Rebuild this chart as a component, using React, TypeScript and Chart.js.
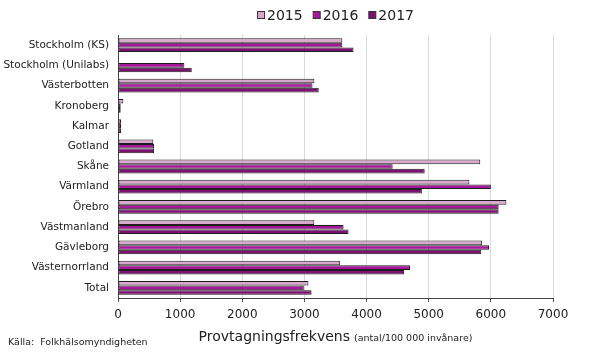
import React, { useEffect, useRef } from "react";
import { Chart, registerables } from "chart.js";

Chart.register(...registerables);

const categories = [
  "Stockholm (KS)",
  "Stockholm (Unilabs)",
  "Västerbotten",
  "Kronoberg",
  "Kalmar",
  "Gotland",
  "Skåne",
  "Värmland",
  "Örebro",
  "Västmanland",
  "Gävleborg",
  "Västernorrland",
  "Total",
];

const values2015 = [3610, null, 3160, 86, 48, 569, 5830, 5655, 6250, 3160, 5860, 3570, 3065];
const values2016 = [3610, 1068, 3130, 43, 48, 580, 4420, 6000, 6125, 3630, 5970, 4700, 2990];
const values2017 = [3790, 1187, 3230, 43, 50, 580, 4935, 4890, 6125, 3710, 5845, 4605, 3115];

const seriesLabels = ["2015", "2016", "2017"];
const seriesColors = ["#d9a9cd", "#a6189a", "#7d1172"];

const xTicks = [0, 1000, 2000, 3000, 4000, 5000, 6000, 7000];
const xTitleMain = "Provtagningsfrekvens";
const xTitleSub = "(antal/100 000 invånare)";
const sourceText = "Källa:  Folkhälsomyndigheten";

const FONT = "'DejaVu Sans', Verdana, sans-serif";

const decorPlugin = {
  id: "decor",
  afterDraw(chart: any) {
    const ctx = chart.ctx;
    const area = chart.chartArea;
    ctx.save();
    // legend
    ctx.font = `14px ${FONT}`;
    ctx.textBaseline = "middle";
    const boxW = 7;
    const gapBoxText = 3;
    const gapItems = 10;
    const widths = seriesLabels.map((l) => boxW + gapBoxText + ctx.measureText(l).width);
    const total = widths.reduce((a, b) => a + b, 0) + gapItems * (widths.length - 1);
    let x = (area.left + area.right) / 2 - total / 2;
    const y = 15;
    seriesLabels.forEach((l, i) => {
      ctx.fillStyle = seriesColors[i];
      ctx.fillRect(x + 0.5, y - 3.5, boxW, boxW);
      ctx.strokeStyle = "#333";
      ctx.lineWidth = 1;
      ctx.strokeRect(x + 0.5, y - 3.5, boxW, boxW);
      ctx.fillStyle = "#222";
      ctx.textAlign = "left";
      ctx.fillText(l, x + boxW + gapBoxText, y + 1);
      x += widths[i] + gapItems;
    });
    // axis title
    ctx.font = `14px ${FONT}`;
    const w1 = ctx.measureText(xTitleMain).width;
    ctx.font = `9.5px ${FONT}`;
    const w2 = ctx.measureText(xTitleSub).width;
    const tw = w1 + 4 + w2;
    const tx = (area.left + area.right) / 2 - tw / 2;
    const ty = 337;
    ctx.textBaseline = "alphabetic";
    ctx.fillStyle = "#222";
    ctx.font = `14px ${FONT}`;
    ctx.fillText(xTitleMain, tx, ty + 4);
    ctx.font = `9.5px ${FONT}`;
    ctx.fillText(xTitleSub, tx + w1 + 4, ty + 4);
    // source
    ctx.font = `9.5px ${FONT}`;
    ctx.fillText(sourceText, 8, 345);
    ctx.restore();
  },
};

export default function App() {
  const ref = useRef<HTMLCanvasElement | null>(null);
  useEffect(() => {
    if (!ref.current) return;
    const data = [values2015, values2016, values2017];
    const chart = new Chart(ref.current, {
      type: "bar",
      data: {
        labels: categories,
        datasets: seriesLabels.map((l, i) => ({
          label: l,
          data: data[i],
          backgroundColor: seriesColors[i],
          borderColor: "#1e1e1e",
          borderWidth: 1,
          borderSkipped: false,
          categoryPercentage: 0.68,
          barPercentage: 1,
        })),
      },
      plugins: [decorPlugin],
      options: {
        indexAxis: "y",
        animation: false,
        responsive: false,
        maintainAspectRatio: false,
        layout: { padding: { top: 35, right: 37, left: 0, bottom: 0 } },
        plugins: {
          legend: { display: false },
          tooltip: { enabled: false },
        },
        scales: {
          x: {
            min: 0,
            max: 7000,
            afterBuildTicks: (scale: any) => {
              scale.ticks = xTicks.map((v) => ({ value: v }));
            },
            afterFit: (scale: any) => {
              scale.height = 56;
            },
            grid: {
              color: "#d9d9d9",
              tickColor: "#555",
              tickLength: 4,
              drawTicks: true,
            },
            border: { display: true, color: "#444", width: 1 },
            ticks: {
              font: { family: FONT, size: 12 },
              color: "#222",
              padding: 6,
              maxRotation: 0,
              callback: (v: any) => String(v),
            },
          },
          y: {
            afterFit: (scale: any) => {
              scale.width = 118;
            },
            grid: { display: false, drawTicks: false },
            border: { display: true, color: "#444", width: 1 },
            ticks: {
              font: { family: FONT, size: 10.5 },
              color: "#222",
              padding: 9,
            },
          },
        },
      },
    } as any);
    return () => chart.destroy();
  }, []);
  return (
    <div style={{ position: "absolute", left: 0, top: 0, width: 590, height: 354, background: "#fff" }}>
      <canvas ref={ref} width={590} height={354} style={{ width: 590, height: 354 }} />
    </div>
  );
}
